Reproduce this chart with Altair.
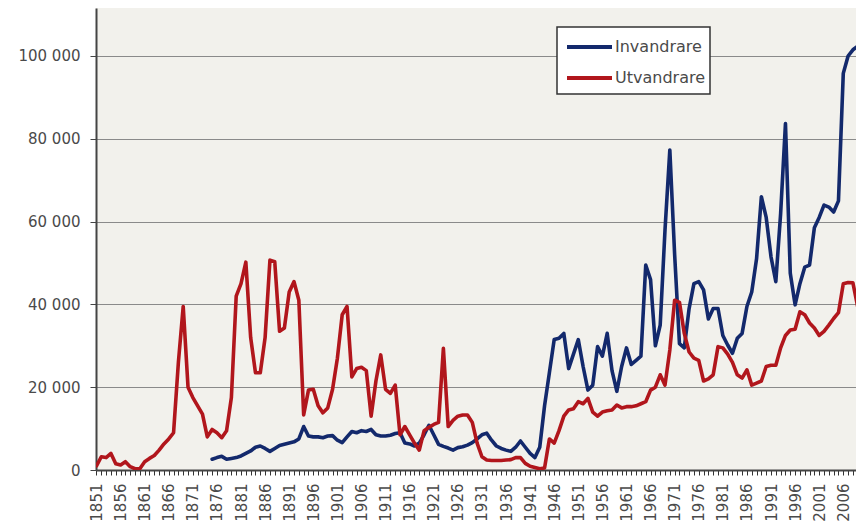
import altair as alt
import pandas as pd

# Utvandrare (emigrants), 1851-2010
years_out = list(range(1851, 2011))
utvandrare = [
    1000, 3200, 3000, 4000, 1500, 1200, 2000, 800, 300, 300,            # 1851-1860
    2000, 2800, 3500, 4800, 6300, 7500, 9000, 26000, 39500, 20000,      # 1861-1870
    17500, 15500, 13500, 8000, 9800, 9000, 7800, 9500, 17500, 42000,    # 1871-1880
    45000, 50200, 32000, 23500, 23500, 32000, 50700, 50300, 33500, 34300,  # 1881-1890
    43000, 45500, 41000, 13300, 19300, 19500, 15500, 13800, 15000, 19500,  # 1891-1900
    27000, 37500, 39500, 22500, 24500, 24800, 24000, 13000, 21500, 27800,  # 1901-1910
    19500, 18500, 20500, 8500, 10500, 8500, 6500, 4800, 9500, 10300,    # 1911-1920
    11000, 11500, 29400, 10500, 12000, 13000, 13300, 13300, 11500, 6500,  # 1921-1930
    3200, 2400, 2300, 2300, 2300, 2400, 2500, 3000, 3000, 1600,          # 1931-1940
    900, 600, 300, 500, 7500, 6500, 9500, 13000, 14500, 14800,           # 1941-1950
    16500, 16000, 17300, 14000, 13000, 14000, 14300, 14500, 15700, 15000,  # 1951-1960
    15300, 15300, 15500, 16000, 16500, 19300, 20000, 23000, 20500, 29000,  # 1961-1970
    41000, 40500, 33000, 28500, 27000, 26500, 21500, 22000, 23000, 29800,  # 1971-1980
    29500, 28000, 26000, 23000, 22200, 24200, 20500, 21000, 21500, 25000,  # 1981-1990
    25300, 25300, 29500, 32500, 33800, 34000, 38200, 37500, 35500, 34300,  # 1991-2000
    32500, 33500, 35000, 36600, 38000, 45000, 45300, 45200, 39400, 49000,  # 2001-2010
]

# Invandrare (immigrants), 1875-2010
years_in = list(range(1875, 2011))
invandrare = [
    2600, 3000, 3300, 2600, 2800, 3000,                                  # 1875-1880
    3400, 4000, 4600, 5500, 5800, 5200, 4500, 5200, 5900, 6200,          # 1881-1890
    6500, 6800, 7500, 10500, 8200, 8000, 8000, 7800, 8200, 8300,         # 1891-1900
    7200, 6600, 8000, 9300, 9000, 9500, 9300, 9800, 8500, 8200,          # 1901-1910
    8200, 8400, 8800, 9000, 6500, 6300, 5800, 6500, 8500, 10800,         # 1911-1920
    8500, 6200, 5700, 5300, 4800, 5400, 5600, 6000, 6600, 7500,          # 1921-1930
    8500, 8900, 7200, 5800, 5200, 4800, 4500, 5500, 7000, 5500,          # 1931-1940
    4000, 3000, 5500, 15500, 23500, 31500, 31800, 33000, 24500, 28000,   # 1941-1950
    31500, 25000, 19300, 20500, 29800, 27500, 33000, 24000, 19000, 25000,  # 1951-1960
    29500, 25500, 26500, 27500, 49500, 46000, 30000, 35000, 58000, 77300,  # 1961-1970
    52000, 30500, 29500, 39000, 45000, 45500, 43500, 36500, 39000, 39000,  # 1971-1980
    32500, 30200, 28200, 31800, 33000, 39500, 43000, 51000, 66000, 61000,  # 1981-1990
    51500, 45500, 62000, 83700, 47500, 39900, 45000, 49000, 49500, 58500,  # 1991-2000
    61000, 64000, 63500, 62300, 65000, 95800, 100000, 101500, 102400, 98600,  # 2001-2010
]

series_names = ["Invandrare", "Utvandrare"]
series_colors = ["#13296c", "#b1161c"]
y_ticks = [0, 20000, 40000, 60000, 80000, 100000]
x_tick_years = list(range(1851, 2009))

assert len(years_out) == len(utvandrare)
assert len(years_in) == len(invandrare)

df = pd.concat([
    pd.DataFrame({"year": years_in, "value": invandrare, "series": series_names[0]}),
    pd.DataFrame({"year": years_out, "value": utvandrare, "series": series_names[1]}),
], ignore_index=True)

FONT = "DejaVu Sans"

lines = alt.Chart(df).mark_line(
    clip=True, strokeWidth=3.6, strokeJoin="round", strokeCap="round"
).encode(
    x=alt.X(
        "year:Q",
        scale=alt.Scale(domain=[1850.9, 2008.64], nice=False, zero=False),
        axis=alt.Axis(
            values=x_tick_years,
            labelExpr="(datum.value - 1851) % 5 == 0 ? '' + datum.value : ''",
            labelAngle=-90,
            labelOverlap=False,
            labelFlush=False,
            grid=False,
            tickSize=5,
            tickColor="#333333",
            tickWidth=1,
            domainColor="#444444",
            domainWidth=2,
            labelPadding=8,
            title=None,
        ),
    ),
    y=alt.Y(
        "value:Q",
        scale=alt.Scale(domain=[0, 111594], nice=False),
        axis=alt.Axis(
            values=y_ticks,
            labelExpr="replace(format(datum.value, ','), ',', ' ')",
            grid=True,
            gridColor="#8a8a8a",
            gridWidth=1.2,
            tickSize=6,
            tickColor="#444444",
            domainColor="#444444",
            domainWidth=2,
            labelPadding=10,
            title=None,
        ),
    ),
    color=alt.Color(
        "series:N",
        scale=alt.Scale(domain=series_names, range=series_colors),
        legend=None,
    ),
)

# Hand-built legend box (white, framed), top-right of the plot
legend_box = alt.Chart(pd.DataFrame({"box": [0]})).mark_rect(
    fill="white", stroke="#333333", strokeWidth=1.5
).encode(
    x=alt.value(461), x2=alt.value(614), y=alt.value(19), y2=alt.value(86)
)

legend_layers = [legend_box]
for i, (name, col) in enumerate(zip(series_names, series_colors)):
    entry = pd.DataFrame({"series": [name]})
    row_y = 39 + 31 * i
    legend_layers.append(
        alt.Chart(entry).mark_rule(strokeWidth=4, color=col, strokeCap="butt").encode(
            x=alt.value(471), x2=alt.value(516), y=alt.value(row_y)
        )
    )
    legend_layers.append(
        alt.Chart(entry).mark_text(
            align="left", baseline="middle", font=FONT, fontSize=16, color="#4a4a4a"
        ).encode(x=alt.value(519), y=alt.value(row_y), text="series:N")
    )

chart = alt.layer(lines, *legend_layers).properties(
    width=760,
    height=462,
    autosize=alt.AutoSizeParams(type="none"),
    padding={"left": 88, "top": 0, "right": 0, "bottom": 53},
    background="white",
).configure_view(
    fill="#f2f1ec",
    stroke=None,
).configure_axis(
    labelFont=FONT,
    labelFontSize=15,
    labelColor="#4a4a4a",
)

chart.save("out.html", embed_options={"renderer": "svg", "actions": False})
